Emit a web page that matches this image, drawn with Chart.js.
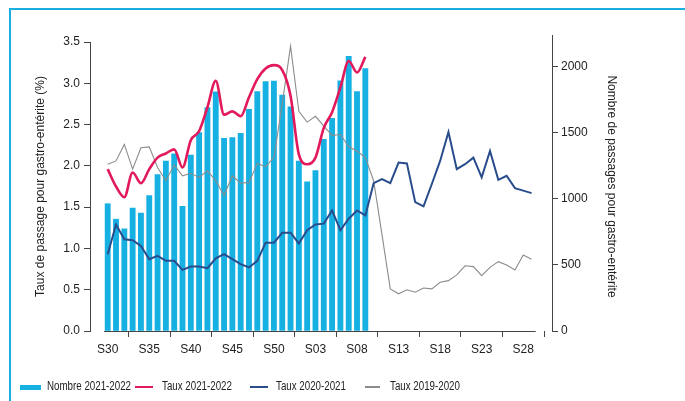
<!DOCTYPE html>
<html><head><meta charset="utf-8">
<script src="https://cdn.jsdelivr.net/npm/chart.js@4.4.1/dist/chart.umd.min.js"></script>
<style>
html,body{margin:0;padding:0;background:#fff;}
#wrap{position:relative;width:685px;height:401px;overflow:hidden;font-family:"Liberation Sans",Arial,sans-serif;}
#frame{position:absolute;left:9px;top:8px;width:700px;height:420px;border-top:2px solid #19ade0;border-left:2px solid #19ade0;}
canvas{position:absolute;left:0;top:0;}
#legend{position:absolute;left:0;top:378px;width:685px;height:18px;}
.item{position:absolute;top:0;height:18px;}
.sw{position:absolute;}
.lbl{position:absolute;top:1px;font-family:"Liberation Sans",Arial,sans-serif;font-size:12.5px;color:#222;white-space:nowrap;transform:scaleX(0.78);transform-origin:0 50%;}
</style></head>
<body><div id="wrap"><div id="frame"></div><canvas id="c" width="685" height="401"></canvas><div id="legend"></div></div>
<script>
const weeks = ['S30','S31','S32','S33','S34','S35','S36','S37','S38','S39','S40','S41','S42','S43','S44','S45','S46','S47','S48','S49','S50','S51','S52',
  'S01','S02','S03','S04','S05','S06','S07','S08','S09','S10','S11','S12','S13','S14','S15','S16','S17','S18','S19','S20','S21','S22','S23','S24','S25','S26','S27','S28','S29'];
const tickWeeks = ['S30','S35','S40','S45','S50','S03','S08','S13','S18','S23','S28'];
const leftTicks = [0,0.5,1,1.5,2,2.5,3,3.5];
const rightTicks = [0,500,1000,1500,2000];
const nombre2122 = [962,845,772,929,891,1023,1183,1284,1339,942,1329,1499,1689,1808,1456,1461,1494,1676,1810,1884,1889,1783,1694,1284,1127,1213,1449,1608,1891,2076,1810,1983];
const taux2122 = [1.96,1.75,1.62,1.92,1.79,1.96,2.10,2.15,2.20,1.98,2.31,2.42,2.71,3.03,2.62,2.66,2.60,2.83,3.05,3.18,3.22,3.16,2.85,2.14,2.02,2.10,2.46,2.65,2.95,3.27,3.13,3.32];
const taux2021 = [0.93,1.29,1.11,1.10,1.03,0.87,0.91,0.85,0.85,0.74,0.78,0.78,0.76,0.88,0.93,0.87,0.81,0.77,0.85,1.07,1.07,1.19,1.19,1.06,1.22,1.29,1.30,1.46,1.22,1.36,1.46,1.40,1.79,1.84,1.79,2.04,2.03,1.56,1.51,1.78,2.06,2.41,1.96,2.02,2.10,1.86,2.18,1.83,1.88,1.73,1.70,1.67];
const taux1920 = [2.02,2.06,2.26,1.96,2.22,2.23,1.98,1.82,2.01,1.88,1.91,1.86,1.94,1.82,1.64,1.88,1.79,1.80,2.03,1.99,2.10,2.75,3.45,2.66,2.53,2.60,2.48,2.37,2.38,2.23,2.18,2.10,1.82,1.17,0.51,0.45,0.50,0.47,0.52,0.51,0.59,0.61,0.68,0.79,0.78,0.67,0.77,0.84,0.80,0.74,0.92,0.87];
const seriesLabels = ['Nombre 2021-2022','Taux 2021-2022','Taux 2020-2021','Taux 2019-2020'];
const colors = ['#17b0e2','#e2195b','#284c8c','#8c8c8c'];

const pts = arr => arr.map((v,i)=>({x:i,y:v}));
const tickIdx = tickWeeks.map(w=>weeks.indexOf(w));
const FONT = {family:'"Liberation Sans", Arial, sans-serif', size:12};

const axisLines = {
  id:'axisLines',
  afterDraw(chart){
    const {ctx, chartArea, scales:{x, y1}} = chart;
    ctx.save();
    ctx.strokeStyle = '#444'; ctx.lineWidth = 1;
    ctx.beginPath();
    const y = Math.round(chartArea.bottom)+0.5;
    ctx.moveTo(x.getPixelForValue(-0.45), y);
    ctx.lineTo(x.getPixelForValue(51.5), y);
    // right axis line continues a little above its top tick, as in the source
    const rx = Math.round(y1.left)+0.5;
    ctx.moveTo(rx, chartArea.top);
    ctx.lineTo(rx, chartArea.top-7);
    ctx.stroke();
    ctx.restore();
  }
};

new Chart(document.getElementById('c'), {
  type:'bar',
  data:{
    datasets:[
      {type:'line', label:seriesLabels[1], data:pts(taux2122), yAxisID:'y', borderColor:colors[1], borderWidth:2.6, pointRadius:0, cubicInterpolationMode:'monotone', order:1},
      {type:'line', label:seriesLabels[2], data:pts(taux2021), yAxisID:'y', borderColor:colors[2], borderWidth:2, pointRadius:0, tension:0, order:2},
      {type:'line', label:seriesLabels[3], data:pts(taux1920), yAxisID:'y', borderColor:colors[3], borderWidth:1.1, pointRadius:0, tension:0, order:3},
      {type:'bar', label:seriesLabels[0], data:pts(nombre2122), yAxisID:'y1', backgroundColor:colors[0], barThickness:5.2, order:4}
    ]
  },
  options:{
    responsive:false, animation:false, devicePixelRatio:1,
    layout:{padding:{left:29,right:62,top:42,bottom:0}},
    plugins:{legend:{display:false}, tooltip:{enabled:false}},
    scales:{
      x:{type:'linear', min:-2.13, max:53.46, offset:false,
        grid:{drawOnChartArea:false, tickLength:6, tickColor:'#444'},
        border:{display:false},
        afterBuildTicks:s=>{s.ticks = tickIdx.map(v=>({value:v}));},
        afterFit:s=>{s.height = 70;},
        ticks:{autoSkip:false, maxRotation:0, padding:5, color:'#222', font:FONT, callback:v=>weeks[v]}
      },
      y:{position:'left', min:0, max:3.5,
        grid:{drawOnChartArea:false, tickLength:6, tickColor:'#444'},
        border:{color:'#444'},
        afterBuildTicks:s=>{s.ticks = leftTicks.map(v=>({value:v}));},
        afterFit:s=>{s.width = 61;},
        ticks:{autoSkip:false, padding:4, color:'#222', font:FONT, callback:v=>Number(v).toFixed(1)},
        title:{display:true, text:'Taux de passage pour gastro-entérite (%)', color:'#222', font:FONT, padding:{top:4,bottom:4}}
      },
      y1:{position:'right', min:0, max:2184,
        grid:{drawOnChartArea:false, tickLength:6, tickColor:'#444'},
        border:{color:'#444'},
        afterBuildTicks:s=>{s.ticks = rightTicks.map(v=>({value:v}));},
        afterFit:s=>{s.width = 71;},
        ticks:{autoSkip:false, padding:3, color:'#222', font:FONT, callback:v=>String(v)},
        title:{display:true, text:'Nombre de passages pour gastro-entérite', color:'#222', font:FONT, padding:{top:4,bottom:4}}
      }
    }
  },
  plugins:[axisLines]
});

// HTML legend
const legend = document.getElementById('legend');
const legendX = [20,135,250,365];
const swatchH = [5,2.6,2,1.1];
const swatchW = [21,18,18,15];
const textOff = [27,27,26,25];
seriesLabels.forEach((lab,i)=>{
  const it = document.createElement('div'); it.className='item'; it.style.left = legendX[i]+'px';
  const sw = document.createElement('div'); sw.className='sw';
  sw.style.left='0px'; sw.style.width=swatchW[i]+'px'; sw.style.height=swatchH[i]+'px';
  sw.style.top=(9-swatchH[i]/2)+'px'; sw.style.background=colors[i];
  const t = document.createElement('div'); t.className='lbl'; t.style.left=textOff[i]+'px'; t.textContent=lab;
  it.appendChild(sw); it.appendChild(t); legend.appendChild(it);
});
</script></body></html>
